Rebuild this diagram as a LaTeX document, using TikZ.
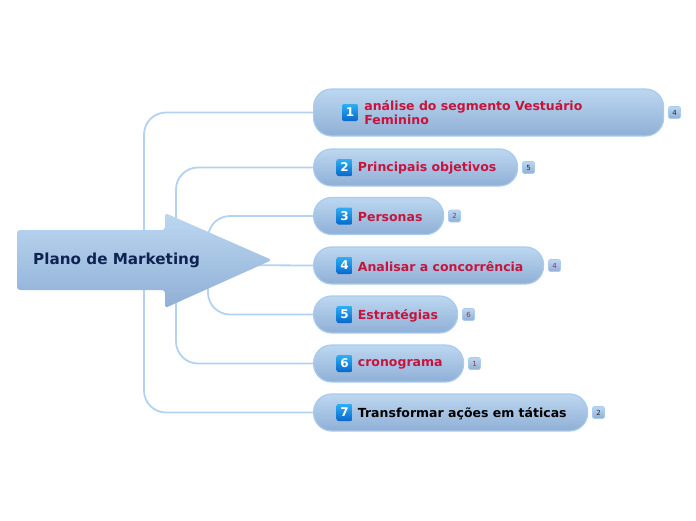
\documentclass[tikz,border=0pt]{standalone}
\usepackage{fontspec}
\setmainfont{DejaVu Sans}
\usetikzlibrary{positioning, shadings}
\definecolor{linkblue}{HTML}{B3D2F2}
\definecolor{pillline}{HTML}{A9CBEE}
\definecolor{pilltop}{HTML}{BCD7F1}
\definecolor{pillbot}{HTML}{8FAFD5}
\definecolor{icontop}{HTML}{2FAEF4}
\definecolor{iconbot}{HTML}{0868CC}
\definecolor{labred}{HTML}{C8143C}
\definecolor{badgered}{HTML}{9A3050}
\definecolor{navy}{HTML}{0E2352}
\tikzstyle{branch} = [rectangle, rounded corners=18pt, minimum height=37pt, inner sep=0pt, anchor=west, draw=pillline, line width=1.2pt, top color=pilltop, bottom color=pillbot]
\tikzstyle{numicon} = [rectangle, rounded corners=2pt, minimum width=16pt, minimum height=17pt, inner sep=0pt, top color=icontop, bottom color=iconbot, text=white, font=\bfseries\fontsize{12}{12}\selectfont]
\tikzstyle{label} = [inner sep=0pt, text=labred, font=\bfseries\fontsize{12.5}{14}\selectfont, align=left]
\tikzstyle{badge} = [rectangle, rounded corners=2pt, minimum width=12pt, minimum height=12pt, inner sep=0pt, draw=pillline, line width=0.6pt, top color=pilltop, bottom color=pillbot, font=\fontsize{7}{7}\selectfont]
\tikzstyle{link} = [draw=linkblue, line width=1.8pt, rounded corners=22pt]

\begin{document}
\begin{tikzpicture}[x=1pt, y=-1pt]
\useasboundingbox (0,0) rectangle (696,520);

% branches
\node (br1) [branch, minimum width=350pt, minimum height=47pt] at (313,112.5) {};
\node (br2) [branch, minimum width=204pt] at (313,167.5) {};
\node (br3) [branch, minimum width=130pt] at (313,216) {};
\node (br4) [branch, minimum width=230pt] at (313,265.5) {};
\node (br5) [branch, minimum width=144pt] at (313,314.5) {};
\node (br6) [branch, minimum width=150pt] at (313,363.5) {};
\node (br7) [branch, minimum width=274pt] at (313,412.5) {};

\node (ic1) [numicon] at (350,112.5) {1};
\node (ic2) [numicon] at (344.5,167.5) {2};
\node (ic3) [numicon] at (344.5,216) {3};
\node (ic4) [numicon] at (344.5,265.5) {4};
\node (ic5) [numicon] at (344.5,314.5) {5};
\node (ic6) [numicon] at (344.5,363.5) {6};
\node (ic7) [numicon] at (344.5,412.5) {7};

\node (lb1) [label, right=6pt of ic1] {análise do segmento Vestuário\\Feminino};
\node (lb2) [label, right=5pt of ic2, yshift=-1pt] {Principais objetivos};
\node (lb3) [label, right=5pt of ic3, yshift=-1pt] {Personas};
\node (lb4) [label, right=5pt of ic4, yshift=-1pt] {Analisar a concorrência};
\node (lb5) [label, right=5pt of ic5, yshift=-1pt] {Estratégias};
\node (lb6) [label, right=5pt of ic6, yshift=-1pt] {cronograma};
\node (lb7) [label, right=5pt of ic7, yshift=-1pt, text=black] {Transformar ações em táticas};

\node (bd1) [badge, right=4pt of br1, text=black!85] {4};
\node (bd2) [badge, right=4pt of br2, text=black!85] {5};
\node (bd3) [badge, right=4pt of br3, text=badgered] {2};
\node (bd4) [badge, right=4pt of br4, text=badgered] {4};
\node (bd5) [badge, right=4pt of br5, text=badgered] {6};
\node (bd6) [badge, right=4pt of br6, text=badgered] {1};
\node (bd7) [badge, right=4pt of br7, text=black!85] {2};

% connectors
\coordinate (j1) at (144,265);
\coordinate (j2) at (176,265);
\coordinate (j3) at (208,265);
\draw [link] (j1) |- (br1.west);
\draw [link] (j2) |- (br2.west);
\draw [link] (j3) |- (br3.west);
\draw [link] (j3) -- (br4.west);
\draw [link] (j3) |- (br5.west);
\draw [link] (j2) |- (br6.west);
\draw [link] (j1) |- (br7.west);

% central arrow
\path [top color=pilltop, bottom color=pillbot, rounded corners=3pt]
  (17,230) -- (165,230) -- (165,213) -- (272,260) -- (165,308) -- (165,290) -- (17,290) -- cycle;
\node (root) [text=navy, font=\bfseries\fontsize{15.2}{17}\selectfont, anchor=west, inner sep=0pt] at (33,260) {Plano de Marketing};
\end{tikzpicture}
\end{document}
